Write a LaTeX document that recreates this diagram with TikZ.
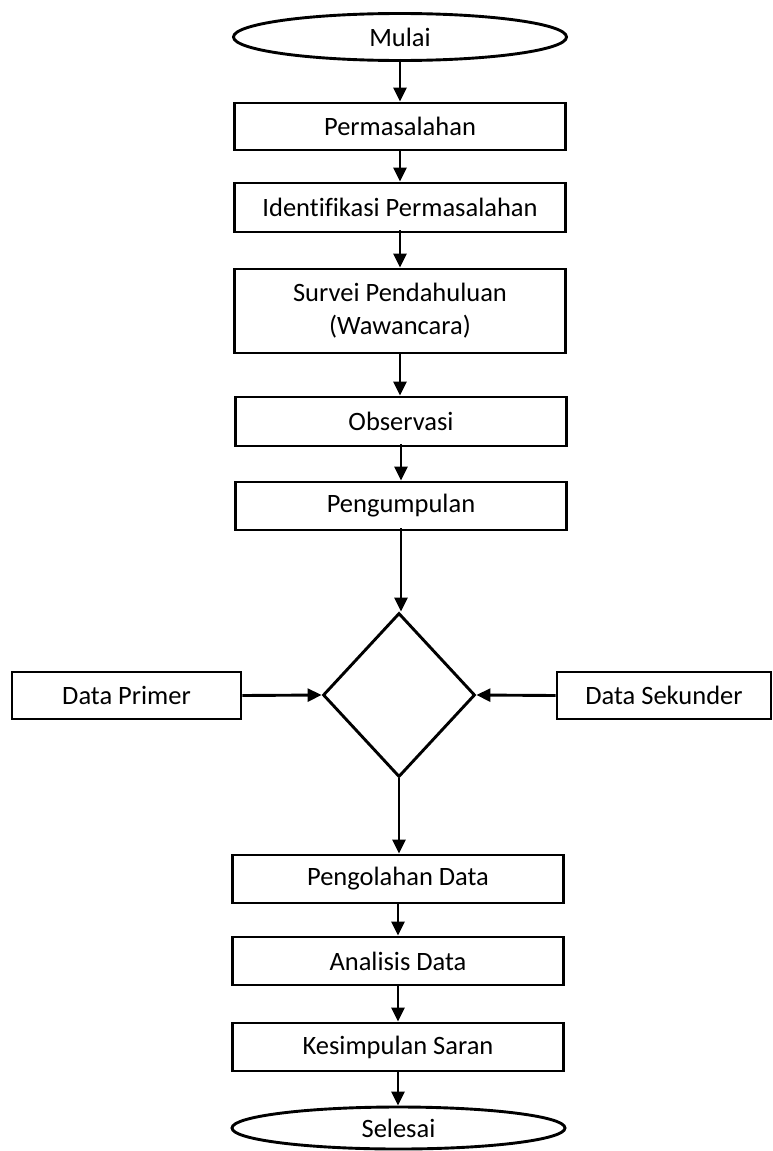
\documentclass[tikz,border=0pt]{standalone}
\usepackage{fontspec}
\setmainfont{Carlito}[Ligatures=CommonOff]
\usetikzlibrary{shapes.geometric,arrows.meta}
\begin{document}
\begin{tikzpicture}[x=1pt,y=-1pt,
  base/.style={draw=black,line width=2.9pt,inner sep=0pt,align=center,
    font=\fontsize{26.5}{33}\selectfont},
  procbox/.style={base,rectangle,minimum width=331pt,minimum height=48pt},
  sidebox/.style={base,rectangle,minimum height=47pt},
  termnode/.style={base,ellipse,minimum width=333pt},
  decnode/.style={base,diamond,minimum width=152pt,minimum height=164pt},
  flow/.style={line width=2.9pt,-{Triangle[length=14pt,width=13pt]}}]
\useasboundingbox (0,0) rectangle (772,1151);
\node[termnode,minimum height=47pt] (mulai) at (400,37) {Mulai};
\node[procbox,minimum height=47pt] (p1) at (400,126.5) {Permasalahan};
\node[procbox,minimum height=49pt] (p2) at (400,207.5) {Identifikasi Permasalahan};
\node[procbox,minimum height=84pt] (p3) at (400,311) {Survei Pendahuluan\\(Wawancara)};
\node[procbox,minimum height=49pt] (p4) at (401,421.5) {Observasi};
\node[procbox] (p5) at (401,506) {Pengumpulan};
\node[decnode] (dec) at (399,695) {};
\node[sidebox,minimum width=229pt] (primer) at (126.5,695.5) {Data Primer};
\node[sidebox,minimum width=214pt] (sekunder) at (664,695.5) {Data Sekunder};
\node[procbox] (p6) at (398,879) {Pengolahan Data};
\node[procbox] (p7) at (398,961) {Analisis Data};
\node[procbox] (p8) at (398,1047) {Kesimpulan Saran};
\node[termnode,minimum height=42pt] (selesai) at (398.5,1128) {Selesai};
\draw[flow] ([yshift=3pt]mulai.south) -- (mulai.south |- p1.north);
\draw[flow] (p1.south) -- (p1.south |- p2.north);
\draw[flow] ([yshift=3pt]p2.south) -- (p2.south |- p3.north);
\draw[flow] (p3.south) -- (p3.south |- p4.north);
\draw[flow] ([yshift=3pt]p4.south) -- (p4.south |- p5.north);
\draw[flow] ([yshift=3pt]p5.south) -- (p5.south |- dec.north);
\draw[flow] (primer.east) -- (dec.west);
\draw[flow] (sekunder.west) -- (dec.east);
\draw[flow] (dec.south) -- (dec.south |- p6.north);
\draw[flow] (p6.south) -- (p6.south |- p7.north);
\draw[flow] (p7.south) -- (p7.south |- p8.north);
\draw[flow] (p8.south) -- (p8.south |- selesai.north);
\end{tikzpicture}
\end{document}
